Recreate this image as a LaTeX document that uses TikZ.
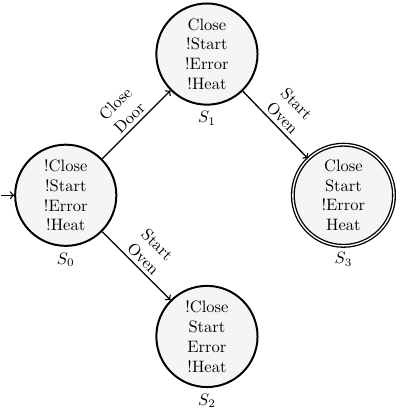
\documentclass[tikz,border=0pt]{standalone}
\usepackage{amsmath,amssymb}
\usepackage{tikz}

\tikzset{
    statenode/.style={circle, draw, very thick, fill=gray!8, minimum size=2.15cm, inner sep=0pt, align=center, label distance=-1.5pt},
    finalnode/.style={statenode, thick, double, double distance=0.8pt},
    edgelabel/.style={sloped, above, align=center, inner sep=2pt}
}

\begin{document}
\begin{tikzpicture}[>=to]
    \useasboundingbox (-1.397,-4.52) rectangle (7.09,4.149);
    % states
    \node[statenode, label=below:$S_0$] (s0) at (0,0) {!Close\\!Start\\!Error\\!Heat};
    \node[statenode, label=below:$S_1$] (s1) at (3,3) {Close\\!Start\\!Error\\!Heat};
    \node[statenode, label=below:$S_2$] (s2) at (3,-3) {!Close\\Start\\Error\\!Heat};
    \node[finalnode, label=below:$S_3$] (s3) at (5.9,0) {Close\\Start\\!Error\\Heat};
    % transitions
    \coordinate (start) at (-1.37,0);
    \draw[->, thick] (start) -- (s0);
    \draw[->, thick] (s0) -- node[edgelabel] {Close\\Door} (s1);
    \draw[->, thick] (s0) -- node[edgelabel] {Start\\Oven} (s2);
    \draw[->, thick] (s1) -- node[edgelabel] {Start\\Oven} (s3);
\end{tikzpicture}
\end{document}
